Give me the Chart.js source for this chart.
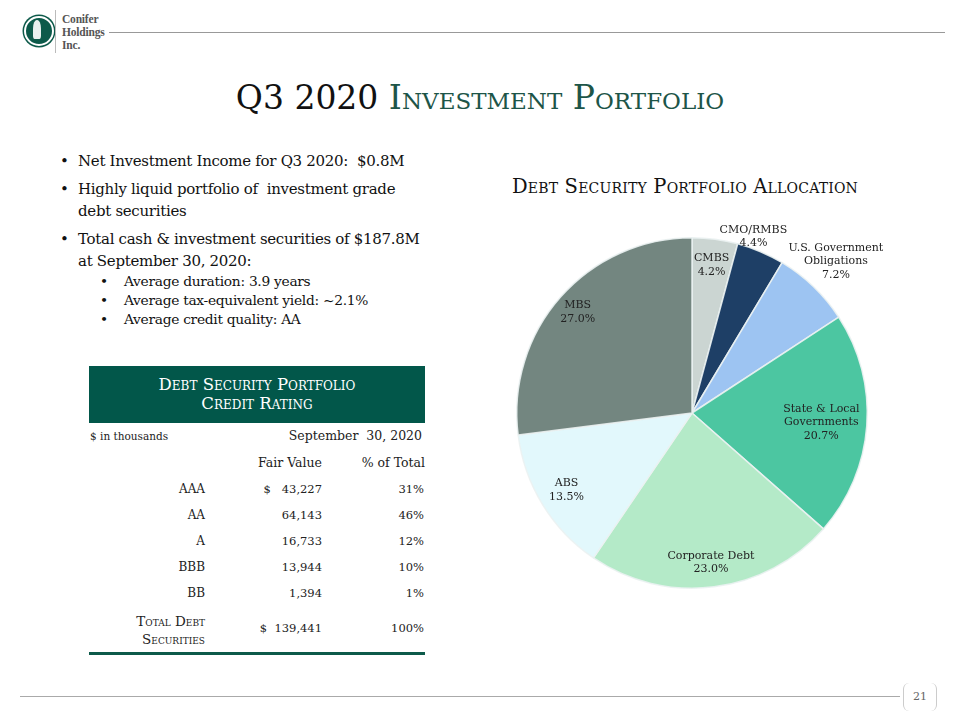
<!DOCTYPE html>
<html>
<head>
<meta charset="utf-8">
<script src="https://cdn.jsdelivr.net/npm/chart.js@4/dist/chart.umd.min.js"></script>
<style>
  html,body{margin:0;padding:0;background:#fff;}
  body{width:960px;height:720px;position:relative;overflow:hidden;font-family:"DejaVu Serif",serif;color:#222;}
  .abs{position:absolute;}
  .sc{font-variant:small-caps;}
  #logoCircle{left:24px;top:16px;width:26px;height:26px;border-radius:50%;background:#0d5a4a;border:2px solid #fff;box-shadow:0 0 0 1.5px #0d5a4a;}
  #logoTree{left:33px;top:20px;width:8px;height:19px;background:#e8f0ee;border-radius:45% 45% 20% 20%;}
  #logoText{left:62px;top:13px;font-family:"Liberation Serif",serif;font-weight:bold;font-size:11.5px;line-height:13px;letter-spacing:-0.2px;color:#555;}
  #logoBar{left:55px;top:10px;width:1px;height:43px;background:#bbb;}
  #topLine{left:109px;top:32px;width:836px;height:1px;background:#999;}
  #title{left:0;top:78px;width:960px;text-align:center;font-size:33px;letter-spacing:0px;color:#111;}
  #title .g{color:#1d5548;}
  ul.main{left:60px;top:150px;width:368px;margin:0;padding:0;list-style:none;font-size:15px;line-height:22px;letter-spacing:-0.3px;color:#111;}
  ul.main>li{position:relative;padding-left:18px;margin-bottom:6px;}
  ul.main>li:before{content:"\2022";position:absolute;left:0;top:0;}
  ul.sub{margin:0 0 0 -18px;padding:0;list-style:none;font-size:13.8px;line-height:19px;letter-spacing:-0.3px;}
  ul.sub>li{position:relative;padding-left:64px;}
  ul.sub>li:before{content:"\2022";position:absolute;left:40px;}
  #tblHead{left:89px;top:366px;width:336px;height:57px;background:#02574a;color:#fff;text-align:center;font-size:16.5px;line-height:19px;box-sizing:border-box;padding-top:9px;}
  .t{font-size:11px;color:#222;white-space:nowrap;}
  #bottomRule{left:89px;top:652px;width:336px;height:3px;background:#0d5a4a;}
  #botLine{left:20px;top:696px;width:880px;height:1px;background:#aaa;}
  #pg{left:903px;top:683px;width:32px;height:28px;border-left:1px solid #ccc;border-right:1px solid #ccc;border-radius:6px;font-size:11px;color:#666;text-align:center;line-height:28px;}
  #chartTitle{left:460px;top:175px;width:450px;text-align:center;font-size:19.5px;letter-spacing:0.2px;color:#111;}
  #wrap{left:472px;top:213px;width:440px;height:400px;}
</style>
</head>
<body>
<div class="abs" id="logoCircle"></div>
<div class="abs" id="logoTree"></div>
<div class="abs" id="logoBar"></div>
<div class="abs" id="logoText">Conifer<br>Holdings<br>Inc.</div>
<div class="abs" id="topLine"></div>

<div class="abs sc" id="title">Q3 2020 <span class="g">Investment Portfolio</span></div>

<ul class="abs main">
  <li>Net Investment Income for Q3 2020:&nbsp; $0.8M</li>
  <li>Highly liquid portfolio of&nbsp; investment grade debt securities</li>
  <li>Total cash &amp; investment securities of $187.8M at September 30, 2020:
    <ul class="sub">
      <li>Average duration: 3.9 years</li>
      <li>Average tax-equivalent yield: ~2.1%</li>
      <li>Average credit quality: AA</li>
    </ul>
  </li>
</ul>

<div class="abs sc" id="tblHead">Debt Security Portfolio<br>Credit Rating</div>
<div id="tbl"></div>
<div class="abs" id="bottomRule"></div>

<div class="abs sc" id="chartTitle">Debt Security Portfolio Allocation</div>
<div class="abs" id="wrap"><canvas id="c" width="440" height="400"></canvas></div>

<div class="abs" id="botLine"></div>
<div class="abs" id="pg">21</div>

<script>
// ---- Data ----
const categories = ['CMBS', 'CMO/RMBS', 'U.S. Government Obligations', 'State & Local Governments', 'Corporate Debt', 'ABS', 'MBS'];
const labelLines = [['CMBS'], ['CMO/RMBS'], ['U.S. Government', 'Obligations'], ['State & Local', 'Governments'], ['Corporate Debt'], ['ABS'], ['MBS']];
const allocationPct = [4.2, 4.4, 7.2, 20.7, 23.0, 13.5, 27.0];

const ratings = ['AAA', 'AA', 'A', 'BBB', 'BB'];
const fairValues = ['$   43,227', '64,143', '16,733', '13,944', '1,394'];
const pctOfTotal = ['31%', '46%', '12%', '10%', '1%'];
const totalLabel = ['Total Debt', 'Securities'];
const totalValue = '$  139,441';
const totalPct = '100%';

// ---- Styles ----
const sliceColors = ['#cbd5d2', '#1e3f66', '#9dc4f2', '#4cc6a1', '#b4eac8', '#e2f8fc', '#738680'];
const labelRadius = [0.85, 1.07, 1.2, 0.74, 0.86, 0.84, 0.87];
const labelShift = [[0, 0], [-12, -4], [-2, 0], [0, 0], [0, 0], [0, 0], [0, 0]];

// ---- Table ----
(function(){
  const t = document.getElementById('tbl');
  function add(txt, left, top, align, w, size){
    const d = document.createElement('div');
    d.className = 'abs t';
    d.innerHTML = txt;
    d.style.top = top + 'px';
    d.style.textAlign = align;
    if (size) d.style.fontSize = size + 'px';
    if (align === 'right') { d.style.left = (left - w) + 'px'; d.style.width = w + 'px'; }
    else { d.style.left = left + 'px'; }
    t.appendChild(d);
    return d;
  }
  add('$ in thousands', 90, 430, 'left', 0, 10.5);
  add('September&nbsp; 30, 2020', 422, 428, 'right', 200, 12.5);
  add('Fair Value', 322, 455, 'right', 100, 12.5);
  add('% of Total', 425, 455, 'right', 100, 12.5);
  const rowTops = [482, 508, 534, 560, 586];
  ratings.forEach((r, i) => {
    add(r, 205, rowTops[i], 'right', 100, 12);
    add(fairValues[i], 322, rowTops[i], 'right', 120, 11.5).style.whiteSpace = 'pre';
    add(pctOfTotal[i], 424, rowTops[i], 'right', 100, 11.5);
  });
  const tl = add(totalLabel[0] + '<br>' + totalLabel[1], 205, 612, 'right', 140, 13.5);
  tl.classList.add('sc');
  tl.style.lineHeight = '18px';
  add(totalValue, 322, 621, 'right', 120, 11.5).style.whiteSpace = 'pre';
  add(totalPct, 424, 621, 'right', 100, 11.5);
})();

// ---- Pie labels plugin ----
const sliceLabels = {
  id: 'sliceLabels',
  afterDatasetsDraw(chart) {
    const ctx = chart.ctx;
    const meta = chart.getDatasetMeta(0);
    const vals = chart.data.datasets[0].data;
    ctx.save();
    ctx.font = '11px "DejaVu Serif", serif';
    ctx.fillStyle = '#222';
    ctx.textAlign = 'center';
    ctx.textBaseline = 'middle';
    meta.data.forEach((arc, i) => {
      const p = arc.getProps(['x', 'y', 'startAngle', 'endAngle', 'outerRadius'], true);
      const mid = (p.startAngle + p.endAngle) / 2;
      const r = p.outerRadius * labelRadius[i];
      const cx = p.x + Math.cos(mid) * r + labelShift[i][0];
      const cy = p.y + Math.sin(mid) * r + labelShift[i][1];
      const lines = labelLines[i].concat([vals[i].toFixed(1) + '%']);
      const lh = 13.5;
      const y0 = cy - (lines.length - 1) * lh / 2;
      lines.forEach((ln, k) => ctx.fillText(ln, cx, y0 + k * lh));
    });
    ctx.restore();
  }
};

new Chart(document.getElementById('c'), {
  type: 'pie',
  data: {
    labels: categories,
    datasets: [{
      data: allocationPct,
      backgroundColor: sliceColors,
      borderColor: 'rgba(235,242,242,0.9)',
      borderWidth: 1.5
    }]
  },
  options: {
    responsive: false,
    animation: false,
    layout: { padding: 24 },
    plugins: { legend: { display: false }, tooltip: { enabled: false }, title: { display: false } }
  },
  plugins: [sliceLabels]
});
</script>
</body>
</html>
